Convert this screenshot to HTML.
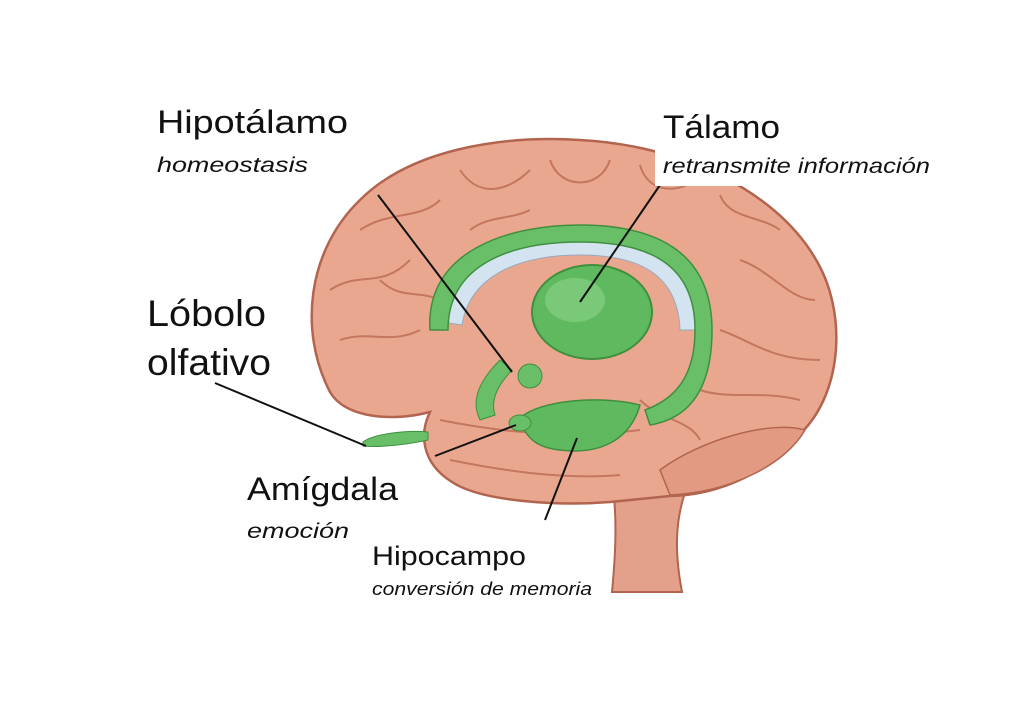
<!DOCTYPE html>
<html><head><meta charset="utf-8"><style>
html,body{margin:0;padding:0;background:#fff;}
svg{display:block;}
text{font-family:"Liberation Sans",sans-serif;fill:#111;}
.it{font-style:italic;}
</style></head><body>
<svg width="1019" height="705" viewBox="0 0 1019 705">
<rect width="1019" height="705" fill="#fff"/>
<!-- brainstem -->
<path d="M612,480 C618,520 615,560 612,592 L682,592 C676,560 672,520 690,480 Z" fill="#e3a08a" stroke="#b2644f" stroke-width="2"/>
<!-- brain -->
<path d="M330,392 C298,330 308,250 360,200 C410,150 500,135 580,140 C680,145 775,190 815,258 C848,312 842,392 802,432 C772,470 722,495 670,496 L610,502 C560,506 482,502 452,482 C420,462 420,432 430,412 C392,422 345,418 330,392 Z" fill="#eaa78f" stroke="#b2644f" stroke-width="2.5"/>
<path d="M660,470 C700,440 770,420 805,430 C785,465 730,492 670,495 Z" fill="#e29a82" stroke="#b2644f" stroke-width="1.5"/>
<g fill="none" stroke="#b8664f" stroke-width="2" opacity="0.75">
<path d="M360,230 C390,210 420,220 440,200"/><path d="M330,290 C360,270 380,290 410,260"/>
<path d="M460,170 C480,200 510,190 530,170"/><path d="M550,160 C560,190 600,190 610,160"/>
<path d="M640,165 C650,200 690,190 700,175"/><path d="M720,195 C730,220 760,215 780,230"/>
<path d="M740,260 C770,270 790,300 815,300"/><path d="M720,330 C750,340 770,360 820,360"/>
<path d="M700,390 C730,400 760,390 800,400"/><path d="M340,340 C370,330 390,345 420,330"/>
<path d="M380,280 C400,300 420,290 440,300"/><path d="M470,230 C490,215 510,220 530,210"/>
<path d="M450,460 C500,470 560,480 620,475"/><path d="M440,420 C490,430 560,440 640,430"/>
<path d="M640,400 C660,420 690,420 700,440"/>
</g>
<path d="M430,320 C440,260 510,232 580,232 C650,232 700,260 700,330 L680,330 C678,275 640,255 580,255 C520,255 470,275 462,325 Z" fill="#d3e3f0" stroke="#9ab" stroke-width="1"/>
<path d="M430,330 C425,250 510,225 580,225 C660,225 712,255 712,330 C712,400 680,420 650,425 L645,410 C672,400 695,380 695,330 C695,265 650,242 580,242 C515,242 448,262 448,330 Z" fill="#69bf68" stroke="#3f8f3f" stroke-width="1.5"/>
<path d="M500,360 C480,380 470,400 480,420 L495,415 C490,400 498,385 512,370 Z" fill="#69bf68" stroke="#3f8f3f"/>
<ellipse cx="592" cy="312" rx="60" ry="47" fill="#5fb95f" stroke="#3f8f3f" stroke-width="2"/>
<ellipse cx="575" cy="300" rx="30" ry="22" fill="#86d084" opacity="0.7"/>
<circle cx="530" cy="376" r="12" fill="#69bf68" stroke="#3f8f3f"/>
<path d="M520,418 C540,400 600,395 640,405 C630,440 600,455 560,450 C540,448 525,440 520,418 Z" fill="#5fb95f" stroke="#3f8f3f" stroke-width="1.5"/>
<ellipse cx="520" cy="423" rx="11" ry="8" fill="#69bf68" stroke="#3f8f3f"/>
<path d="M363,442 C375,433 410,430 428,432 L428,440 C410,444 380,448 363,446 Z" fill="#69bf68" stroke="#3f8f3f"/>
<g stroke="#111" stroke-width="2">
<line x1="378" y1="195" x2="512" y2="372"/><line x1="660" y1="185" x2="580" y2="302"/>
<line x1="215" y1="383" x2="366" y2="446"/><line x1="435" y1="456" x2="516" y2="425"/>
<line x1="545" y1="520" x2="577" y2="438"/>
</g>
<rect x="655" y="100" width="282" height="86" fill="#fff"/>
<rect x="365" y="527" width="246" height="80" fill="#fff"/>
<text x="157" y="133" font-size="32" textLength="191" lengthAdjust="spacingAndGlyphs">Hipotálamo</text>
<text x="157" y="172" font-size="21" class="it" textLength="151" lengthAdjust="spacingAndGlyphs">homeostasis</text>
<text x="663" y="138" font-size="32" textLength="117" lengthAdjust="spacingAndGlyphs">Tálamo</text>
<text x="663" y="173" font-size="21" class="it" textLength="267" lengthAdjust="spacingAndGlyphs">retransmite información</text>
<text x="147" y="326" font-size="37" textLength="119" lengthAdjust="spacingAndGlyphs">Lóbolo</text>
<text x="147" y="375" font-size="37" textLength="124" lengthAdjust="spacingAndGlyphs">olfativo</text>
<text x="247" y="500" font-size="32" textLength="151" lengthAdjust="spacingAndGlyphs">Amígdala</text>
<text x="247" y="538" font-size="21" class="it" textLength="102" lengthAdjust="spacingAndGlyphs">emoción</text>
<text x="372" y="565" font-size="27" textLength="154" lengthAdjust="spacingAndGlyphs">Hipocampo</text>
<text x="372" y="595" font-size="18" class="it" textLength="220" lengthAdjust="spacingAndGlyphs">conversión de memoria</text>
</svg>
</body></html>
